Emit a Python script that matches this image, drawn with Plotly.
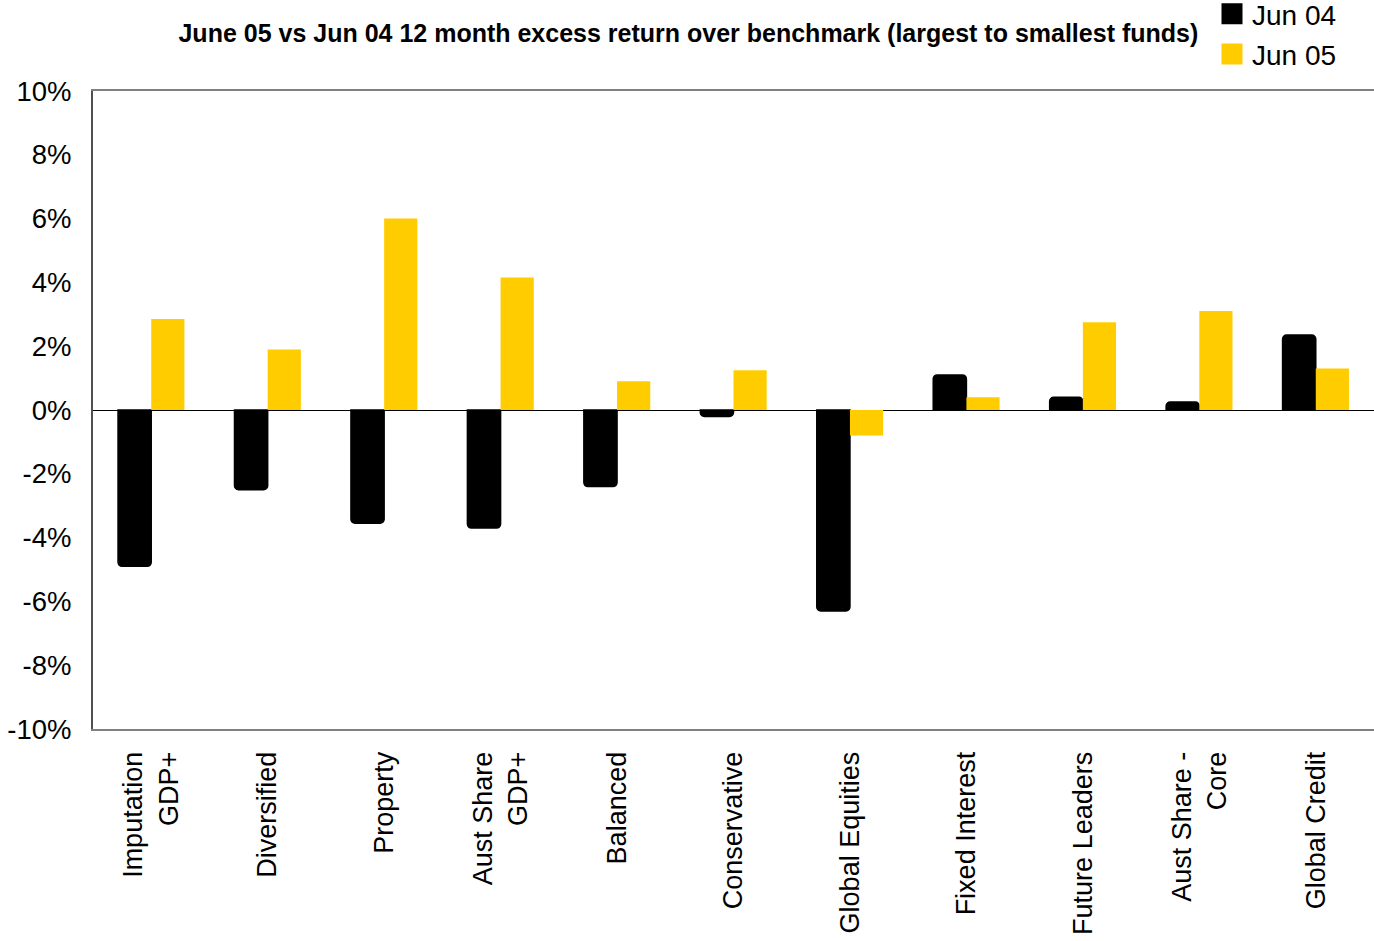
import plotly.graph_objects as go

# Funds ordered largest to smallest
funds = [
    "Imputation<br>GDP+", "Diversified", "Property", "Aust Share<br>GDP+",
    "Balanced", "Conservative", "Global Equities", "Fixed Interest",
    "Future Leaders", "Aust Share -<br>Core", "Global Credit",
]
# 12 month excess return over benchmark, in percent
jun04 = [-4.9, -2.5, -3.55, -3.7, -2.4, -0.2, -6.3, 1.1, 0.4, 0.25, 2.35]
jun05 = [2.85, 1.9, 6.0, 4.15, 0.9, 1.25, -0.8, 0.4, 2.75, 3.1, 1.3]

y_ticks = [10, 8, 6, 4, 2, 0, -2, -4, -6, -8, -10]
y_tick_labels = ["10%", "8%", "6%", "4%", "2%", "0%", "-2%", "-4%", "-6%", "-8%", "-10%"]

BLACK = "#000000"
GOLD = "#FFCC00"
FONT = "Liberation Sans, Arial, sans-serif"

W, H = 1374, 941
ML, MR, MT, MB = 93, 0, 91, 212
PW = W - ML - MR
PH = H - MT - MB

fig = go.Figure()
fig.add_trace(go.Bar(
    x=funds, y=jun04, name="Jun 04", showlegend=False,
    marker=dict(color=BLACK, line=dict(color=BLACK, width=1.5), cornerradius=4),
))
fig.add_trace(go.Bar(
    x=funds, y=jun05, name="Jun 05", showlegend=False,
    marker=dict(color=GOLD, line=dict(width=0)),
))
# Legend entries with large square swatches
for name, col, grp in [("Jun 04", BLACK, "a"), ("Jun 05", GOLD, "b")]:
    fig.add_trace(go.Scatter(
        x=[None], y=[None], mode="markers", name=name, legendgroup=grp,
        marker=dict(symbol="square", size=16, color=col, line=dict(color=col, width=5)),
    ))

fig.update_layout(
    width=W, height=H,
    margin=dict(l=ML, r=MR, t=MT, b=MB, autoexpand=False),
    paper_bgcolor="white", plot_bgcolor="white",
    font=dict(family=FONT, color="black", size=26),
    barmode="group", bargap=0.43, bargroupgap=0,
    title=dict(
        text="<b>June 05 vs Jun 04 12 month excess return over benchmark (largest to smallest funds)</b>",
        x=0.501, xanchor="center", y=1 - 33 / H, yanchor="middle",
        font=dict(size=25, family=FONT, color="black"),
    ),
    legend=dict(
        x=(1212 - ML) / PW, y=1 + (MT + 11) / PH, xanchor="left", yanchor="top",
        font=dict(size=28, family=FONT, color="black"),
        bgcolor="rgba(0,0,0,0)", tracegroupgap=1, itemwidth=30,
    ),
    xaxis=dict(
        range=[-0.5, 10.5], tickangle=-90, showgrid=False,
        showline=True, linecolor="#808080", linewidth=2, mirror=True,
        ticks="", tickfont=dict(size=27), ticklabelstandoff=10,
    ),
    yaxis=dict(
        range=[-10, 10], tickvals=y_ticks, ticktext=y_tick_labels,
        showgrid=False, showline=True, linecolor="#505050", linewidth=2,
        zeroline=True, zerolinecolor="black", zerolinewidth=1,
        ticks="", tickfont=dict(size=27.5), ticklabelstandoff=14,
    ),
)

fig.write_html("out.html")
